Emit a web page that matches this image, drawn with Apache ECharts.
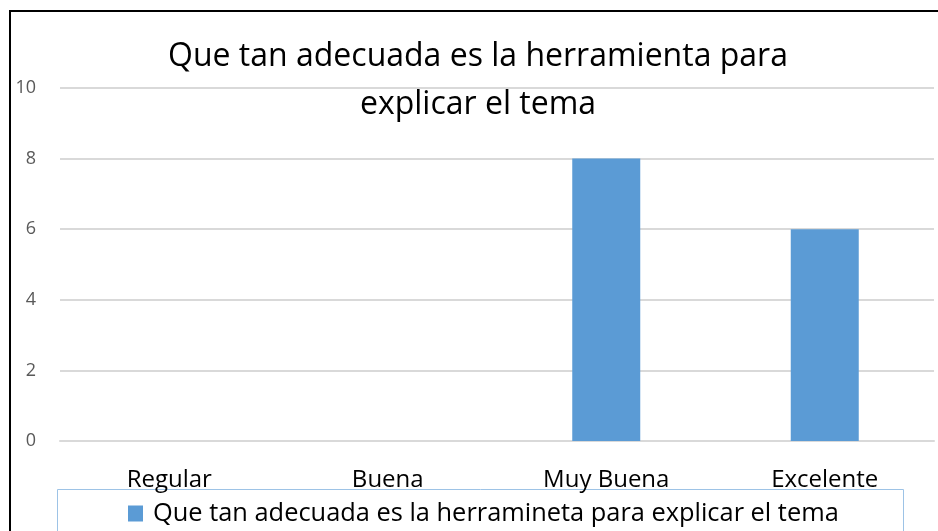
<!DOCTYPE html>
<html>
<head>
<meta charset="utf-8">
<script src="https://cdn.jsdelivr.net/npm/echarts@6/dist/echarts.min.js"></script>
<style>
  html, body { margin: 0; padding: 0; background: #fff; }
  #chart { width: 938px; height: 531px; }
</style>
</head>
<body>
<div id="chart"></div>
<script>
const categories = ['Regular', 'Buena', 'Muy Buena', 'Excelente']
const values = [0, 0, 8, 6]
const seriesName = 'Que tan adecuada es la herramineta para explicar el tema'
const titleText = 'Que tan adecuada es la herramienta para\nexplicar el tema'

const font = 'Open Sans'
const chart = echarts.init(document.getElementById('chart'))
const options = {
  animation: false,
  textStyle: { fontFamily: font },
  graphic: [
    {
      type: 'rect',
      shape: { x: 10, y: 11, width: 940, height: 540 },
      style: { fill: 'none', stroke: '#000', lineWidth: 2 },
      z: 100
    },
    {
      type: 'rect',
      shape: { x: 57.5, y: 489.5, width: 846, height: 60 },
      style: { fill: 'none', stroke: '#9dc3e6', lineWidth: 1 }
    }
  ],
  title: {
    text: titleText,
    left: 478,
    textAlign: 'center',
    top: 33,
    padding: 0,
    textStyle: {
      fontFamily: font,
      fontSize: 32,
      fontWeight: 'normal',
      color: '#000',
      lineHeight: 48
    }
  },
  legend: {
    left: 128,
    top: 501,
    padding: 0,
    itemWidth: 15,
    itemHeight: 16,
    icon: 'rect',
    textStyle: { fontFamily: font, fontSize: 25.4, color: '#000', padding: [0, 0, 0, 5] }
  },
  grid: {
    left: 60,
    right: 4,
    top: 88,
    bottom: 90,
    containLabel: false
  },
  xAxis: {
    type: 'category',
    data: categories,
    axisTick: { show: false },
    axisLine: { lineStyle: { color: '#d9d9d9', width: 2 } },
    axisLabel: { fontFamily: font, fontSize: 24, color: '#000', margin: 27 }
  },
  yAxis: {
    type: 'value',
    min: 0,
    max: 10,
    interval: 2,
    axisLine: { show: false },
    axisTick: { show: false },
    splitLine: { lineStyle: { color: '#d9d9d9', width: 2 } },
    axisLabel: { fontFamily: font, fontSize: 18, color: '#595959', margin: 24 }
  },
  series: [{
    name: seriesName,
    type: 'bar',
    barWidth: 68,
    itemStyle: { color: '#5b9bd5' },
    data: values
  }]
}
chart.setOption(options)
</script>
</body>
</html>
